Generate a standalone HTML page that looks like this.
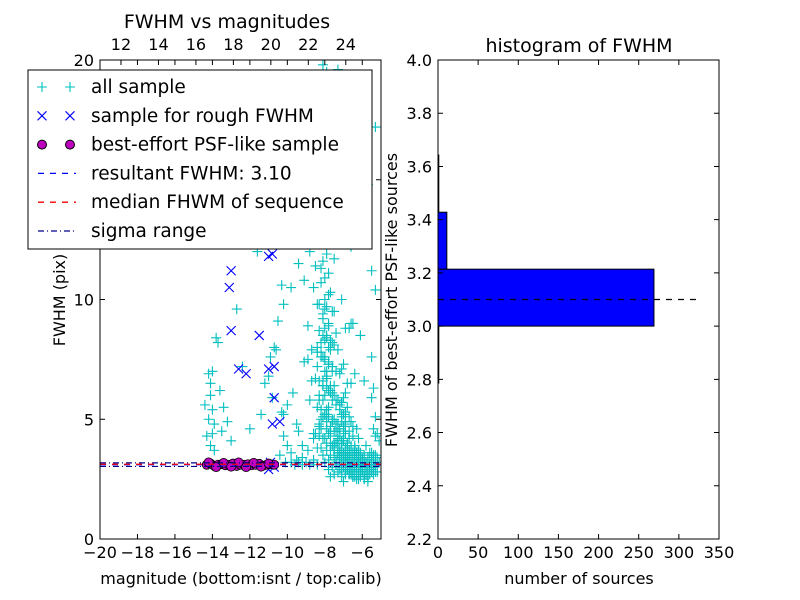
<!DOCTYPE html>
<html><head><meta charset="utf-8"><style>
body{margin:0;background:#fff}
svg{display:block;font-family:"DejaVu Sans","Liberation Sans",sans-serif}
</style></head><body>
<svg id="c" width="800" height="600"></svg>
<script>
// ---- data ----
const allMag=[-8.1,-7.9,-8.3,-7.7,-8.0,-8.4,-7.8,-8.2,-8.6,-7.6,-8.0,-8.3,-7.9,-8.5,-7.7,-8.1,-8.8,-7.5,-8.2,-8.0,-8.6,-7.8,-8.3,-7.6,-8.1,-8.9,-7.4,-8.0,-8.4,-7.2,-9.4,-6.9,-9.8,-6.6,-10.2,-9.1,-7.0,-6.5,
-8.2,-8.0,-7.8,-8.4,-7.6,-7.9,-8.1,-7.5,-7.7,-8.3,-7.4,-7.2,-7.9,-7.1,-7.6,-6.9,-7.3,-7.8,-7.0,-6.8,-7.5,-7.2,-6.7,-7.4,-7.1,-6.6,-7.0,-6.9,-6.5,-7.3,-6.8,-6.4,-7.1,-6.7,-6.3,-6.9,-6.6,-6.2,-6.8,-6.5,-6.1,-6.7,-6.4,-6.0,-6.3,-5.9,-6.6,-6.2,-5.8,-6.5,-6.1,-5.7,-5.6,-5.5,-5.4,-5.3,-8.6,-8.9,-9.2,-8.7,-9.5,-5.9,-5.5,-6.0,
-8.0,-7.7,-7.4,-7.1,-6.8,-6.5,-6.2,-5.9,-5.6,-5.3,-7.9,-7.5,-7.2,-6.9,-6.6,-6.3,-6.0,-5.7,-5.4,-5.1,-8.2,-7.8,-7.3,-7.0,-6.7,-6.4,-6.1,-5.8,-5.5,-5.2,
-10.4,-10.1,-9.8,-9.5,-9.2,-8.9,-8.6,-8.3,-10.3,-10.0,-9.7,-9.4,-9.1,-8.8,-8.5,-8.2,-7.6,-7.0,-6.4,-5.8,-5.3,-6.7,-6.1,-5.5,
-14.2,-14.1,-14.0,-13.9,-14.3,-14.1,-13.8,-14.0,-13.6,-13.4,-13.2,-13.0,-12.7,-12.4,-14.2,-13.9,-13.5,-14.1,-13.7,-14.0,-11.0,-10.8,-10.6,-11.4,-10.5,-10.3,-10.9,-11.2,-10.7,-10.2,-11.6,-12.0,-14.4,-13.3,-12.9,
-8.0,-7.9,-8.1,-7.8,-8.2,-7.7,-8.0,-7.9,-8.1,-7.8,-8.0,-7.9,-8.2,-7.7,-8.1,-7.8,-8.0,-7.9,-8.1,-7.6,-8.3,-7.8,-8.0,-7.9,-8.2,-7.7,-8.0,-7.8,
-7.6,-7.4,-7.2,-7.0,-7.5,-7.3,-7.1,-6.9,-7.7,-7.5,-7.3,-7.1,-6.9,-6.7,-7.4,-7.2,-7.0,-6.8,-6.6,-6.4,-7.3,-7.1,-6.9,-6.7,-6.5,-6.3,-6.1,-7.0,-6.8,-6.6,-6.4,-6.2,-6.0,-5.8,-6.8,-6.6,-6.4,-6.2,-6.0,-5.8,-5.6,-5.4,
-7.8,-7.6,-7.4,-7.2,-7.0,-6.8,-6.6,-6.4,-6.2,-6.0,-5.8,-5.6,-5.4,-5.2,-7.7,-7.5,-7.3,-7.1,-6.9,-6.7,-6.5,-6.3,-6.1,-5.9,-5.7,-5.5,-5.3,-5.1,-8.4,-8.6,-8.8,-9.0,-9.2,-9.4,-9.6,-9.8,-10.0,-10.2,
-7.9,-7.5,-7.1,-6.7,-6.3,-5.9,-5.5,-8.1,-7.7,-7.3,-6.9,-6.5,-6.1,-5.7,-5.3,
-7.6,-7.3,-8.3,-7.4,-8.5,-7.2,-8.4,-7.5,-7.0,-7.8,-7.1,-6.8,-8.7,-7.0,-6.7,-7.5,-6.6,-6.9,
-8.3,-8.1,-7.9,-7.7,-7.5,-7.3,-8.4,-8.2,-8.0,-7.8,-7.6,-7.4,-7.2,-8.5,-8.3,-8.1,-7.9,-7.7,-7.5,-7.3,-7.1,-8.4,-8.2,-8.0,-7.8,-7.6,-7.4,-7.2,-7.0,-8.3,-8.1,-7.9,-7.7,-7.5,-7.3,-7.1,-6.9,
-7.4,-7.2,-7.0,-6.8,-6.6,-6.4,-6.2,-6.0,-5.8,-5.6,-5.4,-5.2,-7.3,-7.1,-6.9,-6.7,-6.5,-6.3,-6.1,-5.9,-5.7,-5.5,-5.3,-5.1,-7.5,-7.3,-7.1,-6.9,-6.7,-6.5,-6.3,-6.1,-5.9,-5.7,-5.5,-5.3,
-7.2,-7.0,-6.8,-6.6,-6.4,-6.2,-6.0,-5.8,-5.6,-5.4,-7.1,-6.9,-6.7,-6.5,-6.3,-6.1,-5.9,-5.7,-5.5,-5.3,
-8.0,-7.8,-7.6,-8.2,-7.9,-7.7,-8.1,-7.9,-8.3,-8.0,-8.4,-8.1,-8.6,-8.2,-7.8];
const allFwhm=[19.8,19.5,18.9,18.2,17.6,17.0,16.5,16.0,15.4,15.0,14.6,14.1,13.7,13.2,12.8,12.4,12.0,11.7,11.3,10.9,10.5,10.2,9.8,9.5,9.2,8.9,8.6,8.3,8.0,12.5,11.5,13.0,10.5,12.2,9.8,10.8,16.0,9.0,
7.8,7.6,7.4,7.2,7.0,6.8,6.6,6.4,6.2,6.0,5.8,5.6,5.4,5.2,5.0,4.8,4.6,4.4,4.2,4.0,3.8,3.6,3.4,3.2,7.1,6.5,5.9,5.3,4.7,4.1,3.5,6.9,5.7,4.5,3.3,6.1,4.9,3.7,5.5,4.3,3.1,5.1,3.9,3.0,4.6,3.4,2.8,4.2,3.2,2.6,3.6,3.0,2.7,3.3,6.3,5.1,4.4,7.5,3.9,6.6,4.8,2.5,
3.3,3.4,3.2,3.5,3.3,3.1,3.4,3.6,3.2,3.5,3.6,3.1,3.7,3.4,3.2,3.5,3.3,3.6,3.1,3.4,3.5,3.2,3.8,3.3,3.6,3.4,3.7,3.2,3.5,3.9,
3.3,3.4,3.5,3.2,3.6,3.3,3.4,3.7,4.2,4.8,5.3,3.9,6.1,4.5,7.4,5.8,4.4,5.0,3.9,4.7,3.8,2.9,2.8,2.7,
8.5,7.6,6.9,6.0,5.4,4.8,4.3,3.9,8.4,7.0,6.2,5.5,4.9,4.1,9.6,7.2,5.0,3.7,4.5,6.5,8.2,4.4,6.8,5.9,7.9,5.2,9.1,10.6,7.6,6.5,8.0,4.3,12.0,4.6,5.6,
13.4,12.9,12.6,11.9,11.6,11.1,10.7,10.3,10.0,9.7,9.4,9.0,8.8,8.5,8.2,7.9,7.6,7.3,7.0,6.7,6.4,6.1,5.8,5.5,5.2,4.9,4.6,4.3,
6.0,6.2,5.8,5.6,5.4,5.2,5.0,4.8,5.1,4.9,4.7,4.5,4.3,4.1,4.4,4.2,4.0,3.8,3.6,3.4,3.9,3.7,3.5,3.3,3.1,2.9,3.0,3.6,3.4,3.2,3.0,2.8,2.6,2.5,3.3,3.1,2.9,2.7,3.5,3.2,3.0,2.8,
3.0,3.1,2.9,3.0,3.1,2.9,3.0,3.1,2.9,3.0,3.1,2.9,3.0,3.1,2.7,2.8,2.6,2.7,2.8,2.6,2.7,2.8,2.6,2.7,2.8,2.6,2.7,2.8,3.1,3.2,3.1,3.2,3.1,3.2,3.1,3.2,3.1,3.2,
5.6,5.2,4.6,4.0,3.7,3.5,3.2,6.6,5.9,5.1,4.5,4.0,3.6,3.3,3.0,
14.8,17.2,18.5,19.6,12.9,16.8,11.4,13.9,9.8,15.6,7.3,8.0,10.0,6.5,7.9,2.4,8.8,9.5,
9.0,8.8,8.7,8.5,8.4,8.3,8.1,7.9,7.8,7.6,7.5,7.3,7.2,7.0,6.9,6.7,6.6,6.4,6.3,6.1,6.0,5.8,5.7,5.5,5.4,5.2,5.1,4.9,4.8,4.6,4.5,4.3,4.2,4.0,3.9,3.7,3.6,
4.9,4.7,4.5,4.3,4.1,3.9,3.7,3.5,3.4,3.3,3.2,3.1,4.6,4.4,4.2,4.0,3.8,3.6,3.4,3.3,3.2,3.1,3.0,2.9,4.3,4.1,3.9,3.7,3.5,3.3,3.2,3.0,2.9,2.8,2.7,2.6,
3.6,3.5,3.4,3.3,3.2,3.1,3.0,2.9,2.8,2.7,3.2,3.0,2.9,2.8,2.7,2.6,2.5,2.6,2.5,2.4,
11.2,10.4,9.6,8.9,8.2,7.6,7.0,6.4,5.8,5.2,4.7,4.2,3.8,3.5,3.3];
const roughMag=[-11.0,-10.8,-13.0,-13.1,-13.0,-11.5,-12.6,-11.0,-12.2,-10.7,-10.7,-10.8,-10.4,-11.0,-10.7,-10.9];
const roughFwhm=[11.8,11.9,11.2,10.5,8.7,8.5,7.1,7.1,6.9,7.2,5.9,4.8,4.9,2.9,3.0,3.2];
const bestMag=[-14.3,-14.1,-13.9,-13.7,-13.5,-13.3,-13.1,-12.9,-12.7,-12.5,-12.3,-12.1,-11.9,-11.7,-11.5,-11.3,-11.1,-10.9,-10.7,-14.2,-13.8,-13.4,-13.0,-12.6,-12.2,-11.8,-11.4,-11.0];
const bestFwhm=[3.1,3.15,3.05,3.1,3.12,3.08,3.1,3.15,3.05,3.1,3.1,3.12,3.08,3.1,3.14,3.06,3.1,3.12,3.1,3.2,3.0,3.18,3.02,3.2,3.0,3.18,3.02,3.15];
const resultFwhm=3.10, medianFwhm=3.12, sigmaLo=3.03, sigmaHi=3.18;
const binEdges=[2.786,3.0,3.214,3.428,3.643];
const binCounts=[1,269,11,1];
const xTicksL=[-20,-18,-16,-14,-12,-10,-8,-6];
const xTicksTop=[12,14,16,18,20,22,24];
const yTicksL=[0,5,10,15,20];
const xTicksR=[0,50,100,150,200,250,300,350];
const yTicksR=[2.2,2.4,2.6,2.8,3.0,3.2,3.4,3.6,3.8,4.0];
// ---- helpers ----
const S='http://www.w3.org/2000/svg', svg=document.getElementById('c');
function el(t,a,p){const e=document.createElementNS(S,t);for(const k in a)e.setAttribute(k,a[k]);(p||svg).appendChild(e);return e;}
function txt(s,x,y,a,p){const e=el('text',Object.assign({x:x,y:y,'font-size':16,fill:'#000'},a),p);e.textContent=s;return e;}
const L={x0:100,x1:381,y0:60,y1:539}, R={x0:438,x1:719,y0:60,y1:539};
const lx=v=>L.x0+(v+20)/15*(L.x1-L.x0), ly=v=>L.y1-v/20*(L.y1-L.y0);
const tx=v=>L.x0+(v-10.88)/15*(L.x1-L.x0);
const rx=v=>R.x0+v/350*(R.x1-R.x0), ry=v=>R.y1-(v-2.2)/1.8*(R.y1-R.y0);
// ---- left plot ----
const gL=el('g',{});
const defs=el('defs',{});const cp=el('clipPath',{id:'cl'},defs);el('rect',{x:L.x0,y:L.y0,width:L.x1-L.x0,height:L.y1-L.y0},cp);
const gp=el('g',{'clip-path':'url(#cl)'},gL);
function plus(x,y,c,p){el('path',{d:`M${x-5},${y}h10M${x},${y-5}v10`,stroke:c,'stroke-width':1.1,fill:'none'},p);}
function cross(x,y,c,p){el('path',{d:`M${x-4.5},${y-4.5}l9,9M${x-4.5},${y+4.5}l9,-9`,stroke:c,'stroke-width':1.1,fill:'none'},p);}
const gA=el('g',{},gp);
allMag.forEach((m,i)=>plus(lx(m),ly(allFwhm[i]),'#00bfbf',gA));
const gB=el('g',{},gp);
roughMag.forEach((m,i)=>cross(lx(m),ly(roughFwhm[i]),'#0000ff',gB));
const gC=el('g',{},gp);
bestMag.forEach((m,i)=>el('circle',{cx:lx(m),cy:ly(bestFwhm[i]),r:4.5,fill:'#bf00bf',stroke:'#000','stroke-width':0.8},gC));
function hline(v,c,da,n){const e=el('line',{x1:L.x0,x2:L.x1,y1:ly(v),y2:ly(v),stroke:c,'stroke-width':1.2,'stroke-dasharray':da},gp);}
hline(resultFwhm,'#0000ff','6,6','resultant-fwhm-line');
hline(medianFwhm,'#ff0000','6,6','median-fwhm-line');
hline(sigmaLo,'#00008b','6,3,1,3','sigma-low-line');
hline(sigmaHi,'#00008b','6,3,1,3','sigma-high-line');
el('rect',{x:L.x0,y:L.y0,width:L.x1-L.x0,height:L.y1-L.y0,fill:'none',stroke:'#000'},gL);
xTicksL.forEach(v=>{const x=lx(v);el('path',{d:`M${x},${L.y1}v-5M${x},${L.y0}v5`,stroke:'#000'},gL);txt('\u2212'+Math.abs(v),x,558,{'text-anchor':'middle'},gL);});
xTicksTop.forEach(v=>{const x=tx(v);el('path',{d:`M${x},${L.y0}v5`,stroke:'#000'},gL);txt(v,x,50,{'text-anchor':'middle'},gL);});
yTicksL.forEach(v=>{const y=ly(v);el('path',{d:`M${L.x0},${y}h5M${L.x1},${y}h-5`,stroke:'#000'},gL);txt(v,L.x0-6,y+6,{'text-anchor':'end'},gL);});
const t1=txt('FWHM vs magnitudes',227,28,{'text-anchor':'middle','font-size':19},gL);
const xl=txt('magnitude (bottom:isnt / top:calib)',241,584,{'text-anchor':'middle'},gL);
const yl=txt('FWHM (pix)',65,300,{'text-anchor':'middle',transform:'rotate(-90 65 300)'},gL);
// legend
const lg=el('g',{});
el('rect',{x:28,y:70,width:344,height:179,fill:'#fff',stroke:'#000'},lg);
const names=['all sample','sample for rough FWHM','best-effort PSF-like sample','resultant FWHM: 3.10','median FHWM of sequence','sigma range'];
names.forEach((n,i)=>{const y=87+i*28.8;const g=el('g',{},lg);
 if(i==0){plus(42,y,'#00bfbf',g);plus(70,y,'#00bfbf',g);}
 if(i==1){cross(42,y,'#0000ff',g);cross(70,y,'#0000ff',g);}
 if(i==2){el('circle',{cx:42,cy:y,r:4.5,fill:'#bf00bf',stroke:'#000'},g);el('circle',{cx:70,cy:y,r:4.5,fill:'#bf00bf',stroke:'#000'},g);}
 if(i==3)el('line',{x1:38,x2:76,y1:y,y2:y,stroke:'#0000ff','stroke-width':1.3,'stroke-dasharray':'6,6'},g);
 if(i==4)el('line',{x1:38,x2:76,y1:y,y2:y,stroke:'#ff0000','stroke-width':1.3,'stroke-dasharray':'6,6'},g);
 if(i==5)el('line',{x1:38,x2:76,y1:y,y2:y,stroke:'#00008b','stroke-width':1.3,'stroke-dasharray':'6,3,1,3'},g);
 txt(n,91,y+6,{'font-size':18.5},g);});
// ---- right plot ----
const gR=el('g',{});
binCounts.forEach((c,i)=>{const y1=ry(binEdges[i]),y2=ry(binEdges[i+1]);const b=el('rect',{x:rx(0),y:y2,width:rx(c)-rx(0),height:y1-y2,fill:'#0000ff',stroke:'#000','stroke-width':1},gR);});
const dl=el('line',{x1:rx(0),x2:rx(322),y1:ry(resultFwhm),y2:ry(resultFwhm),stroke:'#000','stroke-width':1.2,'stroke-dasharray':'6,6'},gR);
el('rect',{x:R.x0,y:R.y0,width:R.x1-R.x0,height:R.y1-R.y0,fill:'none',stroke:'#000'},gR);
xTicksR.forEach(v=>{const x=rx(v);el('path',{d:`M${x},${R.y1}v-5M${x},${R.y0}v5`,stroke:'#000'},gR);txt(v,x,558,{'text-anchor':'middle'},gR);});
yTicksR.forEach(v=>{const y=ry(v);el('path',{d:`M${R.x0},${y}h5M${R.x1},${y}h-5`,stroke:'#000'},gR);txt(v.toFixed(1),R.x0-6,y+6,{'text-anchor':'end'},gR);});
const t2=txt('histogram of FWHM',579,52,{'text-anchor':'middle','font-size':19},gR);
const xr=txt('number of sources',579,584,{'text-anchor':'middle'},gR);
const yr=txt('FWHM of best-effort PSF-like sources',397,300,{'text-anchor':'middle',transform:'rotate(-90 397 300)'},gR);
</script>
</body></html>
